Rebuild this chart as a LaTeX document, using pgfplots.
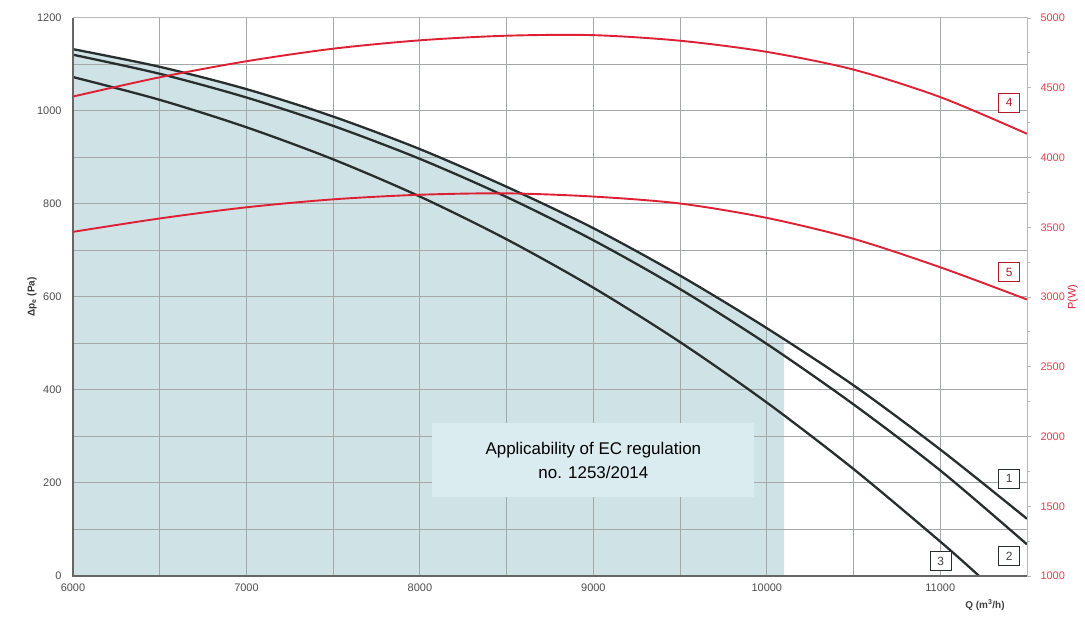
\documentclass[border=0pt]{standalone}
\usepackage{pgfplots}
\pgfplotsset{compat=1.18}
\usepackage{fontspec}
\setmainfont{Liberation Sans}
\definecolor{shade}{RGB}{207,227,231}
\definecolor{boxc}{RGB}{219,236,241}
\definecolor{redc}{RGB}{222,32,52}
\definecolor{curvec}{RGB}{40,46,46}
\definecolor{gridc}{RGB}{165,168,168}
\begin{document}
\begin{tikzpicture}
\begin{axis}[
  set layers,
  at={(0,0)}, anchor=south west,
  scale only axis, width=954bp, height=558bp,
  xmin=6000, xmax=11500, ymin=0, ymax=1200,
  scaled x ticks=false, scaled y ticks=false,
  xtick={6000,7000,...,11000}, minor xtick={6500,7500,...,11500},
  ytick={0,200,...,1200}, minor ytick={100,300,...,1100},
  grid=both,
  major grid style={gridc, line width=1bp},
  minor grid style={gridc, line width=0.9bp},
  axis line style={gray!55, line width=1bp},
  tick style={draw=none},
  ticklabel style={font=\fontsize{11}{13}\selectfont, text=black!70},
  yticklabel style={xshift=-8bp},
  xticklabel style={yshift=-4bp},
  /pgf/number format/assume math mode=true,
  /pgf/number format/1000 sep={},
  xlabel={Q (m\textsuperscript{3}/h)},
  xlabel style={at={(axis description cs:0.956,-0.052)}, anchor=center, font=\bfseries\fontsize{10}{12}\selectfont, text=black!75},
  ylabel={Δp\textsubscript{e} (Pa)},
  ylabel style={at={(axis description cs:-0.043,0.5)}, anchor=center, font=\bfseries\fontsize{10}{12}\selectfont, text=black!80},
  clip=false,
]
% shaded applicability area (under curve 1, up to 10100)
\addplot[draw=none, fill=shade, smooth, on layer=axis background] coordinates {
 (6000,1133) (6500,1095) (7000,1047) (7500,988) (8000,918) (8500,837)
 (9000,748) (9500,646) (10000,533) (10100,508)} \closedcycle;
% curve 1
\addplot[curvec, line width=2.3bp, smooth] coordinates {
 (6000,1133) (6500,1095) (7000,1047) (7500,988) (8000,918) (8500,837)
 (9000,748) (9500,646) (10000,533) (10500,410) (11000,272) (11500,123)};
% curve 2
\addplot[curvec, line width=2.3bp, smooth] coordinates {
 (6000,1121) (6500,1080) (7000,1029) (7500,968) (8000,897) (8500,815)
 (9000,722) (9500,617) (10000,499) (10500,369) (11000,227) (11500,68)};
% curve 3
\addplot[curvec, line width=2.3bp, smooth] coordinates {
 (6000,1073) (6500,1024) (7000,965) (7500,896) (8000,816) (8500,724)
 (9000,620) (9500,503) (10000,373) (10500,230) (11000,74) (11224,0)};
\node[fill=boxc, minimum width=322bp, minimum height=74bp, align=center,
      font=\fontsize{17}{24}\selectfont, inner sep=0pt] at (axis cs:9000,249)
      {Applicability of EC regulation\\no. 1253/2014};
\node[draw=curvec, line width=1bp, fill=white, minimum width=21bp, minimum height=19bp, inner sep=0pt, font=\fontsize{12}{12}\selectfont, text=black!75] at (axis cs:11397,209) {1};
\node[draw=curvec, line width=1bp, fill=white, minimum width=21bp, minimum height=19bp, inner sep=0pt, font=\fontsize{12}{12}\selectfont, text=black!75] at (axis cs:11397,43) {2};
\node[draw=curvec, line width=1bp, fill=white, minimum width=21bp, minimum height=19bp, inner sep=0pt, font=\fontsize{12}{12}\selectfont, text=black!75] at (axis cs:11003,32) {3};
\draw[line width=2.5bp, black!60] (rel axis cs:0,1) -- (rel axis cs:0,0) -- (rel axis cs:1,0);
\end{axis}
\begin{axis}[
  at={(0,0)}, anchor=south west,
  scale only axis, width=954bp, height=558bp,
  xmin=6000, xmax=11500, ymin=1000, ymax=5000,
  scaled y ticks=false,
  axis x line=none,
  axis y line*=right,
  ytick={1000,1500,...,5000}, minor ytick={1250,1750,...,4750},
  y axis line style={gray!55, line width=1bp},
  tick align=outside, major tick length=4bp, minor tick length=3bp,
  tick style={gray!55, line width=0.8bp},
  yticklabel style={font=\fontsize{11}{13}\selectfont, text=redc!85, xshift=6bp},
  /pgf/number format/assume math mode=true,
  /pgf/number format/1000 sep={},
  ylabel={P(W)},
  ylabel style={at={(axis description cs:1.048,0.5)}, anchor=center, rotate=0, font=\fontsize{11}{13}\selectfont, text=redc},
  clip=false,
]
% curve 4
\addplot[redc, line width=1.9bp, smooth] coordinates {
 (6000,4437) (6500,4575) (7000,4690) (7500,4780) (8000,4840) (8500,4873)
 (9000,4877) (9500,4837) (10000,4757) (10500,4630) (11000,4433) (11500,4170)};
% curve 5
\addplot[redc, line width=1.9bp, smooth] coordinates {
 (6000,3467) (6500,3563) (7000,3643) (7500,3700) (8000,3733) (8500,3743)
 (9000,3720) (9500,3670) (10000,3567) (10500,3417) (11000,3213) (11500,2982)};
\node[draw=redc!80!black, line width=1bp, fill=white, minimum width=21bp, minimum height=19bp, inner sep=0pt, font=\fontsize{12}{12}\selectfont, text=redc!80!black] at (axis cs:11397,4393) {4};
\node[draw=redc!80!black, line width=1bp, fill=white, minimum width=21bp, minimum height=19bp, inner sep=0pt, font=\fontsize{12}{12}\selectfont, text=redc!80!black] at (axis cs:11397,3179) {5};
\end{axis}
\pgfresetboundingbox
\path[use as bounding box] (-73bp,-54bp) rectangle (1012bp,576bp);
\end{tikzpicture}
\end{document}
